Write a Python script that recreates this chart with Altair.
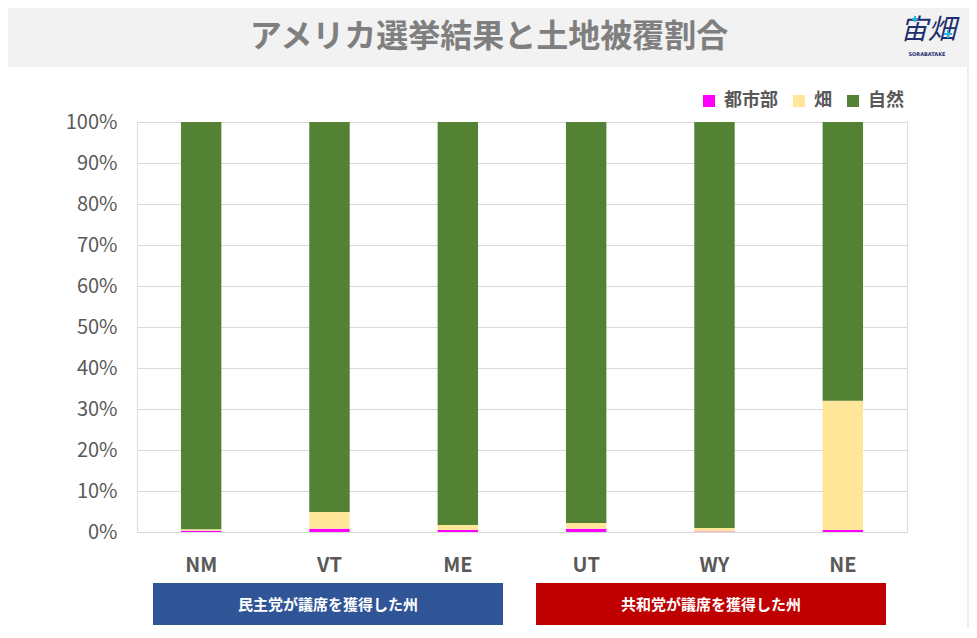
import altair as alt
import pandas as pd

states = ["NM", "VT", "ME", "UT", "WY", "NE"]
categories = ["都市部", "畑", "自然"]
urban = [0.3, 0.8, 0.5, 0.8, 0.1, 0.5]
farm = [0.4, 4.1, 1.2, 1.4, 0.9, 31.5]
nature = [99.3, 95.1, 98.3, 97.8, 99.0, 68.0]
colors = ["#ff00ff", "#ffe699", "#548235"]
y_ticks = [0, 10, 20, 30, 40, 50, 60, 70, 80, 90, 100]
title_text = "アメリカ選挙結果と土地被覆割合"
dem_label = "民主党が議席を獲得した州"
rep_label = "共和党が議席を獲得した州"

rows = []
for i, s in enumerate(states):
    for k, (cat, vals) in enumerate(zip(categories, [urban, farm, nature])):
        rows.append({"state": s, "cat": cat, "value": vals[i], "order": k})
df = pd.DataFrame(rows)

JP = "Noto Sans CJK JP"
one = alt.Data(values=[{"a": 1}])

border = alt.Chart(one).mark_rect(fillOpacity=0, stroke="#d9d9d9", strokeWidth=1).encode(
    x=alt.value(-137), x2=alt.value(831), y=alt.value(-122), y2=alt.value(515)
)
band = alt.Chart(one).mark_rect(fill="#f2f2f2").encode(
    x=alt.value(-136), x2=alt.value(838), y=alt.value(-121), y2=alt.value(-55)
)
title = alt.Chart(one).mark_text(
    text=title_text, font=JP, fontSize=32, fontWeight="bold", color="#7f7f7f",
    align="center", baseline="middle"
).encode(x=alt.value(352), y=alt.value(-85))
logo = alt.Chart(one).mark_text(
    text="宙畑", font=JP, fontSize=28, fontStyle="italic", color="#1f2e6e",
    align="center", baseline="middle"
).encode(x=alt.value(791), y=alt.value(-91))


def plus(cx, cy, r):
    h = alt.Chart(one).mark_rule(color="#29b6d8", strokeWidth=2).encode(
        x=alt.value(cx - r), x2=alt.value(cx + r), y=alt.value(cy), y2=alt.value(cy))
    v = alt.Chart(one).mark_rule(color="#29b6d8", strokeWidth=2).encode(
        x=alt.value(cx), x2=alt.value(cx), y=alt.value(cy - r), y2=alt.value(cy + r))
    return [h, v]


logo_sub = alt.Chart(one).mark_text(
    text="SORABATAKE", font="DejaVu Sans", fontSize=5, fontWeight="bold", color="#1f2e6e",
    align="center", baseline="middle"
).encode(x=alt.value(790), y=alt.value(-68))

bars = alt.Chart(df).mark_bar().encode(
    x=alt.X("state:N", sort=states,
            scale=alt.Scale(paddingInner=0.685, paddingOuter=0.3425),
            axis=alt.Axis(title=None, labelAngle=0, labelFontSize=20, labelFont=JP,
                          labelFontWeight="bold", labelColor="#595959", labelPadding=23,
                          ticks=False, domain=False, grid=False)),
    y=alt.Y("value:Q", stack="zero",
            scale=alt.Scale(domain=[0, 100], nice=False),
            axis=alt.Axis(title=None, values=y_ticks, labelExpr="datum.value + '%'",
                          labelFontSize=20, labelFont=JP, labelColor="#595959",
                          labelPadding=20, ticks=False, domain=False,
                          grid=True, gridColor="#d9d9d9", gridWidth=1)),
    color=alt.Color("cat:N", scale=alt.Scale(domain=categories, range=colors),
                    legend=alt.Legend(title=None, orient="none", legendX=563, legendY=-30,
                                      direction="horizontal", symbolType="square",
                                      symbolSize=144, symbolStrokeWidth=0,
                                      labelFontSize=18, labelFont=JP, labelColor="#595959",
                                      labelFontWeight="bold",
                                      columnPadding=12, labelOffset=6, padding=0)),
    order=alt.Order("order:Q", sort="ascending"),
)

dem_box = alt.Chart(one).mark_rect(fill="#2f5597").encode(
    x=alt.value(16), x2=alt.value(366), y=alt.value(461), y2=alt.value(503)
)
rep_box = alt.Chart(one).mark_rect(fill="#c00000").encode(
    x=alt.value(399), x2=alt.value(749), y=alt.value(461), y2=alt.value(503)
)
dem_text = alt.Chart(one).mark_text(
    text=dem_label, font=JP, fontSize=15, fontWeight="bold", color="white",
    align="center", baseline="middle"
).encode(x=alt.value(191), y=alt.value(483))
rep_text = alt.Chart(one).mark_text(
    text=rep_label, font=JP, fontSize=15, fontWeight="bold", color="white",
    align="center", baseline="middle"
).encode(x=alt.value(574), y=alt.value(483))

chart = alt.layer(
    border, band, title, logo, *plus(778, -103, 3), *plus(811, -88, 4), logo_sub, bars,
    dem_box, rep_box, dem_text, rep_text
).properties(
    width=770, height=410,
    padding={"left": 129, "top": 114, "right": 62, "bottom": 96},
    autosize=alt.AutoSizeParams(type="none"),
).configure_view(stroke=None).configure(background="white")

chart.save("out.html", embed_options={"renderer": "svg", "actions": False})
